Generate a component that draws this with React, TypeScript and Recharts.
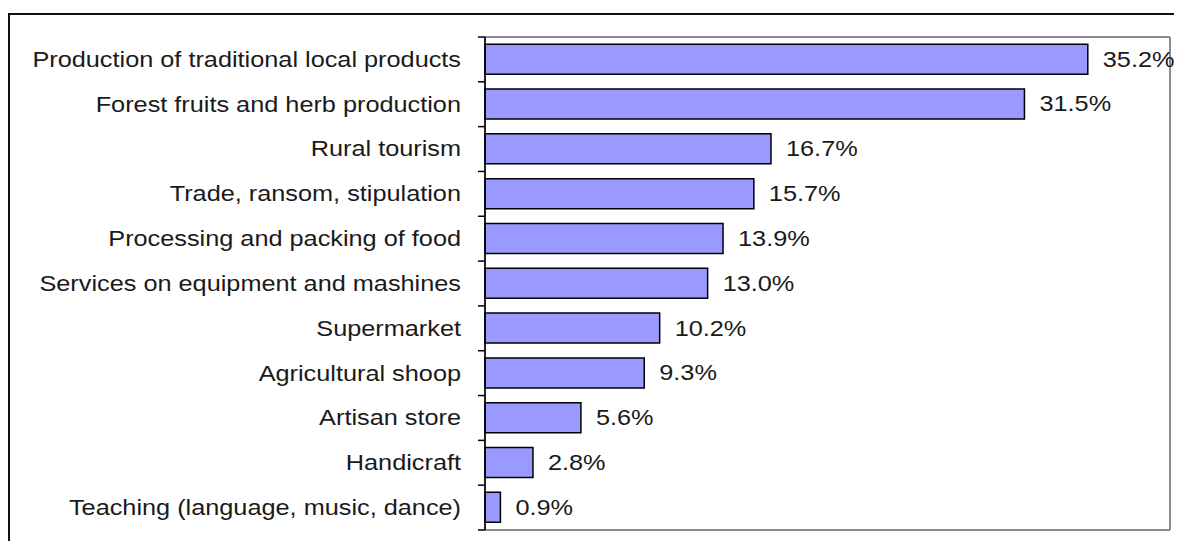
import { BarChart, Bar, XAxis, YAxis, LabelList, CartesianGrid } from 'recharts';

const categories = [
  'Production of traditional local products',
  'Forest fruits and herb production',
  'Rural tourism',
  'Trade, ransom, stipulation',
  'Processing and packing of food',
  'Services on equipment and mashines',
  'Supermarket',
  'Agricultural shoop',
  'Artisan store',
  'Handicraft',
  'Teaching (language, music, dance)',
];

const shares = [35.2, 31.5, 16.7, 15.7, 13.9, 13.0, 10.2, 9.3, 5.6, 2.8, 0.9];

const xDomain = [0, 40];

const rows = categories.map((name, i) => ({ name, share: shares[i] }));

const FONT = '"Liberation Sans", Arial, sans-serif';
const STRETCH = 1.15;
const TICK_MARGIN = 24;
const FRAME_GRAY = '#8c8c8c';

// label plus the little marks that sit between categories (Excel style)
const CategoryTick = ({ x, y, payload, index, visibleTicksCount }: any) => {
  const axisX = x + TICK_MARGIN;
  const half = payload.offset || 0;
  const isLast = index === visibleTicksCount - 1;
  return (
    <g>
      <line x1={axisX - 7} x2={axisX} y1={y - half} y2={y - half} stroke="#000" strokeWidth={1.5} />
      {isLast && (
        <line x1={axisX - 7} x2={axisX} y1={y + half} y2={y + half} stroke="#000" strokeWidth={1.5} />
      )}
      <g transform={`translate(${x},${y}) scale(${STRETCH},1)`}>
        <text textAnchor="end" dominantBaseline="central" fontSize={22} fill="#1a1a1a" fontFamily={FONT}>
          {payload.value}
        </text>
      </g>
    </g>
  );
};

const ValueLabel = ({ x, y, width, height, value }: any) => (
  <g transform={`translate(${x + width + 15},${y + height / 2}) scale(${STRETCH},1)`}>
    <text textAnchor="start" dominantBaseline="central" fontSize={22} fill="#1a1a1a" fontFamily={FONT}>
      {`${Number(value).toFixed(1)}%`}
    </text>
  </g>
);

export default function App() {
  return (
    <div style={{ position: 'relative', width: 1174, height: 533 }}>
      <div
        style={{
          position: 'absolute',
          left: 0,
          top: 5,
          width: 1172,
          height: 526,
          borderTop: '2px solid #111',
          borderLeft: '2px solid #111',
        }}
      />
      <div style={{ position: 'absolute', left: 0, top: 0 }}>
        <BarChart
          width={1174}
          height={533}
          data={rows}
          layout="vertical"
          margin={{ top: 0, right: 12, bottom: 0, left: 0 }}
          barCategoryGap="16%"
        >
          <CartesianGrid horizontal={false} stroke={FRAME_GRAY} strokeWidth={2} />
          <XAxis
            type="number"
            domain={xDomain}
            ticks={xDomain}
            height={11}
            tick={false}
            tickLine={false}
            axisLine={{ stroke: FRAME_GRAY, strokeWidth: 2 }}
          />
          <XAxis
            xAxisId="top"
            orientation="top"
            type="number"
            domain={xDomain}
            height={29}
            tick={false}
            tickLine={false}
            axisLine={{ stroke: FRAME_GRAY, strokeWidth: 2 }}
          />
          <YAxis
            type="category"
            dataKey="name"
            width={477}
            tickLine={false}
            axisLine={{ stroke: '#000', strokeWidth: 1.5 }}
            tickSize={0}
            tickMargin={TICK_MARGIN}
            interval={0}
            tick={<CategoryTick />}
          />
          <Bar
            dataKey="share"
            fill="#9999ff"
            stroke="#000"
            strokeWidth={1.5}
            isAnimationActive={false}
          >
            <LabelList dataKey="share" content={<ValueLabel />} />
          </Bar>
        </BarChart>
      </div>
    </div>
  );
}
